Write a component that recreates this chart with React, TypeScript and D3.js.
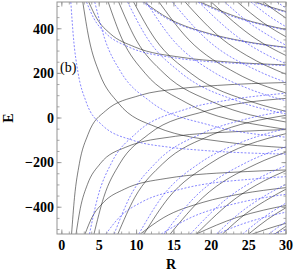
import React from 'react';
import * as d3 from 'd3';

type Pt = [number, number];

// black levels rising from the bottom edge (tend to about +190)
const blackRising: Pt[][] = [
  [[1.3, -520], [1.69, -357], [2.34, -205], [3.51, -73], [5.85, 32], [10.4, 101], [15.6, 131], [20.8, 146], [30, 159]],
  [[4.3, -520], [5.59, -357], [7.74, -205], [11.61, -73], [19.35, 32], [30, 88]],
  [[7.5, -520], [9.75, -357], [13.5, -205], [20.25, -73], [30, 12]],
  [[11, -520], [14.3, -357], [19.8, -205], [30, -70]],
  [[14.5, -520], [18.85, -357], [26.1, -205], [30, -153]],
  [[18, -520], [23.4, -357], [27, -283], [30, -236]],
  [[21.5, -520], [24.7, -427], [27.95, -357], [30, -319]],
  [[25, -520], [27.5, -455], [30, -402]],
  [[28.5, -520], [30, -485]],
];

// black levels rising towards about -200 (and one towards 0)
const blackRisingLow: Pt[][] = [
  [[1.9, -520], [2.47, -405], [3.42, -298], [5.13, -205], [8.55, -131], [15.2, -82], [22.8, -62], [30, -52]],
  [[3.1, -520], [4.03, -446], [5.58, -378], [8.37, -319], [13.95, -271], [24.8, -240], [30, -233]],
  [[10.5, -520], [13.65, -446], [18.9, -378], [24, -340], [30, -312]],
  [[18, -520], [23.4, -446], [27, -413], [30, -392]],
  [[25.5, -520], [27.5, -497], [30, -472]],
];

// black levels falling from the top edge (tend to about -200)
const blackFalling: Pt[][] = [
  [[2.8, 520], [3.64, 354], [5.04, 200], [7.56, 67], [12.6, -40], [22.4, -110], [30, -133]],
  [[6.2, 520], [8.06, 354], [11.16, 200], [16.74, 67], [27.9, -40], [30, -51]],
  [[7.6, 520], [9.88, 354], [13.68, 200], [20.52, 67], [30, -18]],
  [[9.6, 520], [12.48, 354], [17.28, 200], [25.92, 67], [30, 30]],
  [[13, 520], [16.9, 354], [23.4, 200], [30, 112]],
  [[16.5, 520], [21.45, 354], [24.75, 280], [30, 196]],
  [[20, 520], [26, 354], [30, 280]],
  [[23.5, 520], [27, 426], [30, 364]],
  [[27, 520], [28.35, 486], [30, 448]],
];

// black levels falling towards about +200
const blackFallingHigh: Pt[][] = [
  [[3.6, 520], [4.68, 446], [6.48, 378], [9.72, 319], [16.2, 271], [21.6, 253], [30, 238]],
  [[11, 520], [14.3, 446], [19.8, 378], [24.2, 345], [30, 317]],
  [[18.5, 520], [24.05, 446], [30, 397]],
  [[26, 520], [28.08, 496], [30, 477]],
];

// blue levels falling from the top edge (tend to about -190)
const blueFalling: Pt[][] = [
  [[1.2, 520], [1.56, 357], [2.16, 205], [3.24, 73], [5.4, -32], [9.6, -101], [14.4, -131], [19.2, -146], [30, -162]],
  [[4.4, 520], [5.72, 357], [7.92, 205], [11.88, 73], [19.8, -32], [30, -86]],
  [[8.8, 520], [11.44, 357], [15.84, 205], [23.76, 73], [30, 18]],
  [[11.3, 520], [14.69, 357], [20.34, 205], [24.86, 133], [30, 77]],
  [[14.8, 520], [19.24, 357], [26.64, 205], [30, 160]],
  [[18.3, 520], [23.79, 357], [27.45, 283], [30, 243]],
  [[21.8, 520], [25.07, 427], [28.34, 357], [30, 326]],
  [[25.3, 520], [27.83, 455], [30, 409]],
  [[28.8, 520], [30, 492]],
];

// blue levels falling towards about +200
const blueFallingHigh: Pt[][] = [
  [[3.3, 520], [4.29, 446], [5.94, 378], [8.91, 319], [14.85, 271], [26.4, 240], [30, 235]],
  [[10.8, 520], [14.04, 446], [19.44, 378], [24, 344], [30, 315]],
  [[18.2, 520], [23.66, 446], [27, 416], [30, 394]],
  [[25.7, 520], [27.76, 496], [30, 474]],
];

// blue levels rising from the bottom edge (tend to about +200)
const blueRising: Pt[][] = [
  [[3.7, -520], [4.81, -354], [6.66, -200], [9.99, -67], [16.65, 40], [22.2, 80], [30, 111]],
  [[7, -520], [9.1, -354], [12.6, -200], [18.9, -67], [24.5, -6], [30, 32]],
  [[10.3, -520], [13.39, -354], [18.54, -200], [24, -109], [30, -47]],
  [[13.7, -520], [17.81, -354], [24.66, -200], [30, -129]],
  [[17.2, -520], [22.36, -354], [25.8, -280], [30, -213]],
  [[20.7, -520], [23.8, -426], [26.91, -354], [30, -297]],
  [[24.2, -520], [26.62, -455], [30, -381]],
  [[27.7, -520], [29.09, -486], [30, -465]],
];

// blue levels rising towards about -200
const blueRisingLow: Pt[][] = [
  [[5.9, -520], [7.67, -446], [10.62, -378], [15.93, -319], [26.55, -271], [30, -263]],
  [[13.3, -520], [17.29, -446], [23.94, -378], [30, -342]],
  [[20.8, -520], [24, -477], [27.04, -446], [30, -422]],
  [[28.3, -520], [30, -502]],
];

const xTicks = [0, 5, 10, 15, 20, 25, 30];
const yTicks = [-400, -200, 0, 200, 400];
const xMinor = d3.range(0, 31, 1);
const yMinor = d3.range(-500, 501, 50);

export default function App() {
  const width = 294;
  const height = 273;
  const left = 57, right = 286, top = 2, bottom = 234;

  const x = d3.scaleLinear().domain([-0.65, 30]).range([left, right]);
  const y = d3.scaleLinear().domain([-520, 520]).range([bottom, top]);

  const line = d3
    .line<Pt>()
    .x(d => x(d[0]))
    .y(d => y(d[1]))
    .curve(d3.curveMonotoneX);

  const black = [...blackRising, ...blackRisingLow, ...blackFalling, ...blackFallingHigh];
  const blue = [...blueFalling, ...blueFallingHigh, ...blueRising, ...blueRisingLow];

  const font = '"Liberation Serif", "Times New Roman", serif';
  const frame = '#939393';

  return (
    <svg
      width={width}
      height={height}
      style={{ position: 'absolute', left: 0, top: 0, background: '#fff' }}
    >
      <defs>
        <clipPath id="plot">
          <rect x={left} y={top} width={right - left} height={bottom - top} />
        </clipPath>
      </defs>

      <g clipPath="url(#plot)" fill="none">
        {black.map((c, i) => (
          <path key={'k' + i} d={line(c) || ''} stroke="#111" strokeOpacity={0.68} strokeWidth={0.8} />
        ))}
        {blue.map((c, i) => (
          <path
            key={'b' + i}
            d={line(c) || ''}
            stroke="#4646ff"
            strokeOpacity={0.72}
            strokeWidth={0.9}
            strokeDasharray="2,1.6"
          />
        ))}
      </g>

      {/* frame */}
      <rect x={left} y={top} width={right - left} height={bottom - top} fill="none" stroke={frame} strokeWidth={1} />

      {/* minor ticks */}
      {xMinor.map(t => (
        <g key={'xm' + t} stroke={frame} strokeWidth={0.8}>
          <line x1={x(t)} x2={x(t)} y1={bottom} y2={bottom - 2.5} />
          <line x1={x(t)} x2={x(t)} y1={top} y2={top + 2.5} />
        </g>
      ))}
      {yMinor.map(t => (
        <g key={'ym' + t} stroke={frame} strokeWidth={0.8}>
          <line x1={left} x2={left + 2.5} y1={y(t)} y2={y(t)} />
          <line x1={right} x2={right - 2.5} y1={y(t)} y2={y(t)} />
        </g>
      ))}

      {/* major ticks + labels */}
      {xTicks.map(t => (
        <g key={'x' + t}>
          <line x1={x(t)} x2={x(t)} y1={bottom} y2={bottom - 4.5} stroke={frame} strokeWidth={0.9} />
          <line x1={x(t)} x2={x(t)} y1={top} y2={top + 4.5} stroke={frame} strokeWidth={0.9} />
          <text x={x(t)} y={250} textAnchor="middle" fontFamily={font} fontWeight="bold" fontSize={14}>
            {t}
          </text>
        </g>
      ))}
      {yTicks.map(t => (
        <g key={'y' + t}>
          <line x1={left} x2={left + 4.5} y1={y(t)} y2={y(t)} stroke={frame} strokeWidth={0.9} />
          <line x1={right} x2={right - 4.5} y1={y(t)} y2={y(t)} stroke={frame} strokeWidth={0.9} />
          <text x={54} y={y(t) + 4.8} textAnchor="end" fontFamily={font} fontWeight="bold" fontSize={14}>
            {t < 0 ? '\u2212' + Math.abs(t) : t}
          </text>
        </g>
      ))}

      <text x={171} y={269} textAnchor="middle" fontFamily={font} fontWeight="bold" fontSize={14}>
        R
      </text>
      <text
        transform={`translate(13, ${y(0)}) rotate(-90)`}
        textAnchor="middle"
        fontFamily={font}
        fontWeight="bold"
        fontSize={14}
      >
        E
      </text>
      <text x={60} y={72} fontFamily={font} fontSize={14}>
        (b)
      </text>
    </svg>
  );
}
